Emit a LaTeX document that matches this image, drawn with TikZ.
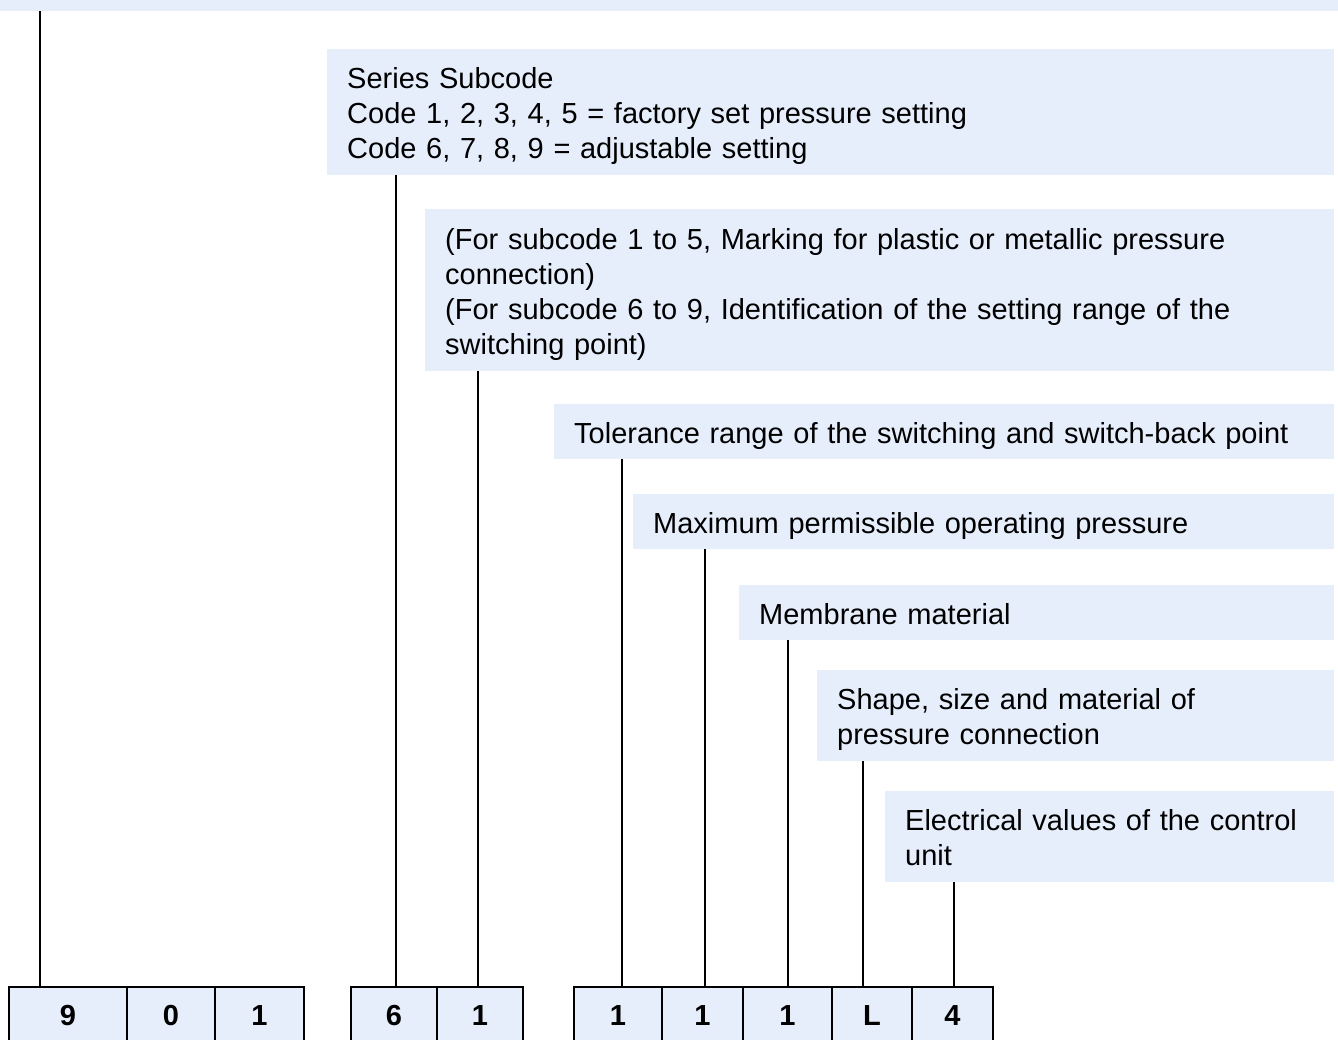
\documentclass[tikz,border=0pt]{standalone}
\usepackage{fontspec}
\setmainfont{Liberation Sans}
\usetikzlibrary{positioning}
\definecolor{PaleBlue}{HTML}{E6EEFC}

\begin{document}
\begin{tikzpicture}[x=1pt,y=-1pt,
        note/.style={fill=PaleBlue,anchor=north west,inner xsep=20pt,inner ysep=0pt,
                     align=left,font=\fontsize{29}{35}\selectfont,
                     execute at begin node={\rule{0pt}{29.5pt}},
                     execute at end node={\rule[-6.5pt]{0pt}{6.5pt}}},
        cell/.style={draw=black,line width=2pt,fill=PaleBlue,minimum height=58pt,
                     inner sep=0pt,font=\fontsize{29}{35}\selectfont\bfseries},
        link/.style={line width=2pt}
      ]
        \clip (0,0) rectangle (1338,1039);
        % description boxes
        \node[note,text width=1298pt,minimum height=51pt] (head) at (0,-40) {};
        \node[note,text width=967pt,minimum height=126pt] (series) at (327,49)
            {Series Subcode\\Code 1, 2, 3, 4, 5 = factory set pressure setting\\Code 6, 7, 8, 9 = adjustable setting};
        \node[note,text width=869pt,minimum height=162pt] (subcode) at (425,209)
            {(For subcode 1 to 5, Marking for plastic or metallic pressure\\connection)\\(For subcode 6 to 9, Identification of the setting range of the\\switching point)};
        \node[note,text width=740pt,minimum height=55pt] (tolerance) at (554,404)
            {Tolerance range of the switching and switch-back point};
        \node[note,text width=661pt,minimum height=55pt] (maxpress) at (633,494)
            {Maximum permissible operating pressure};
        \node[note,text width=555pt,minimum height=55pt] (membrane) at (739,585)
            {Membrane material};
        \node[note,text width=477pt,minimum height=91pt] (shape) at (817,670)
            {Shape, size and material of\\pressure connection};
        \node[note,text width=409pt,minimum height=91pt] (elec) at (885,791)
            {Electrical values of the control\\unit};
        % code cells
        \node[cell,minimum width=118pt] (d1) at (68,1016) {9};
        \node[cell,minimum width=88pt] (d2) at (171,1016) {0};
        \node[cell,minimum width=89pt] (d3) at (259.5,1016) {1};
        \node[cell,minimum width=86pt] (d4) at (394,1016) {6};
        \node[cell,minimum width=86pt] (d5) at (480,1016) {1};
        \node[cell,minimum width=88pt] (d6) at (618,1016) {1};
        \node[cell,minimum width=81pt] (d7) at (702.5,1016) {1};
        \node[cell,minimum width=89pt] (d8) at (787.5,1016) {1};
        \node[cell,minimum width=80pt] (d9) at (872,1016) {L};
        \node[cell,minimum width=81pt] (d10) at (952.5,1016) {4};
        % leader lines
        \draw[link] ([xshift=-28pt]d1.north) -- ([xshift=-28pt]d1.north |- head.south);
        \draw[link] ([xshift=2pt]d4.north) -- ([xshift=2pt]d4.north |- series.south);
        \draw[link] ([xshift=-2pt]d5.north) -- ([xshift=-2pt]d5.north |- subcode.south);
        \draw[link] ([xshift=4pt]d6.north) -- ([xshift=4pt]d6.north |- tolerance.south);
        \draw[link] ([xshift=2.5pt]d7.north) -- ([xshift=2.5pt]d7.north |- maxpress.south);
        \draw[link] ([xshift=0.5pt]d8.north) -- ([xshift=0.5pt]d8.north |- membrane.south);
        \draw[link] ([xshift=-9pt]d9.north) -- ([xshift=-9pt]d9.north |- shape.south);
        \draw[link] ([xshift=1.5pt]d10.north) -- ([xshift=1.5pt]d10.north |- elec.south);
      \end{tikzpicture}
\end{document}
